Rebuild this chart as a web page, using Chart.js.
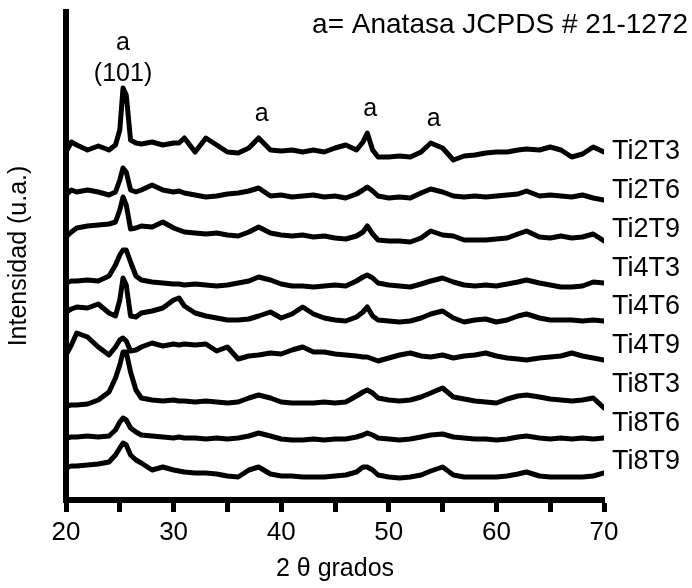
<!DOCTYPE html>
<html>
<head>
<meta charset="utf-8">
<script src="https://cdn.jsdelivr.net/npm/chart.js@4.4.1/dist/chart.umd.min.js"></script>
<style>
  html, body { margin: 0; padding: 0; background: #fff; }
  #wrap { width: 692px; height: 588px; }
</style>
</head>
<body>
<div id="wrap"><canvas id="xrdChart" width="692" height="588"></canvas></div>
<script>
// Ángulos 2θ (grados) comunes a todos los difractogramas
const angulos = [20, 20.5, 21, 22, 23, 24, 24.6, 25, 25.3, 25.6, 26, 26.5, 27, 28, 29, 30, 30.5, 31, 32, 33, 34, 35, 36, 37, 37.9,
  39, 40, 41, 42, 43, 44, 45, 46, 47, 47.6, 48, 48.5, 49, 50, 51, 52, 53, 53.9, 55, 56, 57, 58, 59, 60, 61, 62, 62.8, 64, 65, 66, 67, 68, 69, 70];

const muestras = ['Ti2T3', 'Ti2T6', 'Ti2T9', 'Ti4T3', 'Ti4T6', 'Ti4T9', 'Ti8T3', 'Ti8T6', 'Ti8T9'];
// desplazamiento vertical de cada curva (u.a.)
const desplazamientos = [335, 295, 255, 210, 175, 135, 90, 55, 20];

// Intensidades (u.a.)
const Ti2T3 = [13, 23, 20, 15, 19, 15, 20, 35, 77, 70, 25, 22, 21, 23, 20, 22, 22, 27, 13, 27, 20, 13, 12, 17, 27,
  15, 14, 15, 13, 15, 13, 17, 20, 15, 23, 32, 15, 8, 8, 9, 8, 13, 22, 17, 5, 9, 10, 12, 13, 13, 15, 16, 15, 18, 15, 8, 11, 18, 13];
const Ti2T6 = [10, 15, 13, 15, 13, 10, 13, 25, 37, 33, 15, 13, 15, 20, 15, 13, 14, 12, 10, 8, 9, 11, 12, 14, 17,
  9, 10, 8, 9, 10, 8, 9, 7, 11, 15, 18, 14, 9, 7, 8, 7, 12, 16, 13, 9, 8, 9, 8, 9, 10, 11, 14, 9, 10, 9, 8, 10, 7, 5];
const Ti2T9 = [8, 13, 17, 19, 20, 21, 23, 35, 48, 40, 16, 17, 19, 18, 23, 17, 15, 13, 12, 11, 12, 10, 9, 13, 18,
  12, 10, 9, 10, 8, 9, 7, 6, 9, 13, 19, 11, 5, 4, 4, 3, 7, 14, 10, 9, 5, 5, 5, 6, 7, 11, 14, 8, 7, 9, 7, 8, 11, 4];
const Ti4T3 = [7, 9, 9, 10, 9, 14, 25, 35, 40, 40, 28, 14, 10, 8, 7, 6, 6, 5, 6, 5, 4, 5, 7, 9, 13,
  10, 6, 4, 4, 3, 4, 5, 4, 9, 13, 15, 12, 7, 5, 4, 3, 6, 9, 12, 8, 5, 4, 5, 4, 6, 8, 10, 7, 5, 3, 3, 4, 8, 7];
const Ti4T6 = [13, 16, 18, 17, 21, 12, 9, 25, 47, 40, 9, 8, 12, 14, 17, 25, 27, 19, 12, 9, 7, 5, 5, 6, 9,
  13, 7, 11, 18, 11, 7, 5, 4, 8, 13, 18, 9, 5, 4, 3, 4, 7, 11, 14, 7, 3, 5, 6, 3, 5, 9, 11, 7, 5, 5, 5, 4, 5, 4];
const Ti4T9 = [10, 20, 32, 28, 18, 10, 18, 25, 27, 24, 14, 15, 18, 22, 19, 21, 20, 21, 20, 21, 14, 18, 6, 9, 10,
  12, 11, 15, 18, 13, 13, 11, 10, 9, 8, 8, 6, 4, 7, 10, 12, 9, 8, 10, 7, 9, 10, 12, 9, 7, 6, 5, 7, 8, 9, 12, 9, 7, 5];
const Ti8T3 = [4, 5, 5, 6, 10, 18, 32, 45, 58, 58, 38, 20, 12, 10, 9, 10, 9, 9, 8, 9, 8, 7, 8, 12, 15,
  12, 8, 7, 7, 7, 8, 7, 8, 14, 18, 20, 17, 12, 10, 9, 10, 13, 17, 22, 13, 11, 9, 8, 7, 11, 14, 15, 13, 11, 10, 9, 10, 12, 2];
const Ti8T6 = [7, 8, 8, 9, 8, 9, 15, 23, 27, 25, 17, 13, 10, 9, 8, 7, 8, 7, 7, 6, 7, 6, 7, 9, 12,
  9, 6, 5, 5, 6, 5, 6, 6, 8, 10, 12, 10, 7, 6, 5, 6, 8, 10, 11, 8, 7, 6, 6, 5, 6, 8, 9, 7, 6, 7, 6, 7, 6, 7];
const Ti8T9 = [12, 14, 14, 15, 16, 18, 25, 32, 37, 35, 25, 20, 17, 10, 13, 10, 9, 8, 7, 7, 6, 4, 3, 10, 13,
  6, 4, 4, 3, 3, 3, 4, 5, 8, 13, 13, 10, 5, 3, 2, 3, 5, 9, 13, 5, 3, 3, 3, 3, 4, 6, 8, 4, 3, 3, 3, 3, 4, 7];

const intensidades = [Ti2T3, Ti2T6, Ti2T9, Ti4T3, Ti4T6, Ti4T9, Ti8T3, Ti8T6, Ti8T9];

// Picos de anatasa marcados sobre Ti2T3
const picosAnatasa = [25.3, 37.9, 48.0, 53.9];
const planoPrincipal = '(101)';
const leyenda = 'a= Anatasa JCPDS # 21-1272';

const fuente = "'Liberation Sans', Arial, sans-serif";

// Textos sobre el gráfico: letras de los picos, nombres de muestras y leyenda
const textosPlugin = {
    id: 'textos',
    afterDatasetsDraw(chart) {
        const ctx = chart.ctx;
        const x = chart.scales.x;
        const y = chart.scales.y;
        ctx.save();
        ctx.fillStyle = '#000';
        ctx.textAlign = 'center';
        ctx.textBaseline = 'middle';
        ctx.font = '25px ' + fuente;

        picosAnatasa.forEach((pico, i) => {
            const idx = angulos.indexOf(pico);
            const px = x.getPixelForValue(pico);
            const py = y.getPixelForValue(Ti2T3[idx] + desplazamientos[0]);
            if (i === 0) {
                ctx.fillText(planoPrincipal, px, py - 14);
                ctx.fillText('a', px, py - 45);
            } else {
                ctx.fillText('a', px + 3, py - 24);
            }
        });

        // nombres de las muestras a la derecha
        ctx.textAlign = 'left';
        ctx.font = '27px ' + fuente;
        muestras.forEach((m, i) => {
            ctx.fillText(m, chart.chartArea.right + 8, 152 + i * 38.75);
        });

        // leyenda
        ctx.textAlign = 'right';
        ctx.font = '28px ' + fuente;
        ctx.fillText(leyenda, 688, 25);
        ctx.restore();
    }
};

const ctx = document.getElementById('xrdChart').getContext('2d');

new Chart(ctx, {
    type: 'line',
    data: {
        datasets: muestras.map((m, i) => ({
            label: m,
            data: angulos.map((a, j) => ({ x: a, y: intensidades[i][j] + desplazamientos[i] })),
            borderColor: '#000',
            borderWidth: 5,
            borderJoinStyle: 'round',
            borderCapStyle: 'round',
            pointRadius: 0,
            tension: 0,
            fill: false
        }))
    },
    options: {
        responsive: false,
        animation: false,
        layout: { padding: { top: 12, right: 88, left: 0, bottom: 0 } },
        plugins: {
            legend: { display: false },
            tooltip: { enabled: false }
        },
        scales: {
            x: {
                type: 'linear',
                min: 20,
                max: 70,
                afterFit: (scale) => { scale.height = 88; },
                ticks: {
                    stepSize: 5,
                    padding: 5,
                    color: '#000',
                    font: { family: fuente, size: 26 },
                    callback: (v) => (v % 10 === 0 ? v : '')
                },
                grid: {
                    drawOnChartArea: false,
                    drawTicks: true,
                    tickLength: 12,
                    tickWidth: 5,
                    color: '#000'
                },
                border: { display: true, width: 6, color: '#000' },
                title: {
                    display: true,
                    text: '2 θ grados',
                    color: '#000',
                    font: { family: fuente, size: 25 },
                    padding: { top: 0, bottom: 4 }
                }
            },
            y: {
                min: 0,
                max: 488,
                afterFit: (scale) => { scale.width = 66; },
                ticks: { display: false },
                grid: { display: false },
                border: { display: true, width: 6, color: '#000' },
                title: {
                    display: true,
                    text: 'Intensidad (u.a.)',
                    color: '#000',
                    font: { family: fuente, size: 25 },
                    padding: { top: 4, bottom: 4 }
                }
            }
        }
    },
    plugins: [textosPlugin]
});
</script>
</body>
</html>
